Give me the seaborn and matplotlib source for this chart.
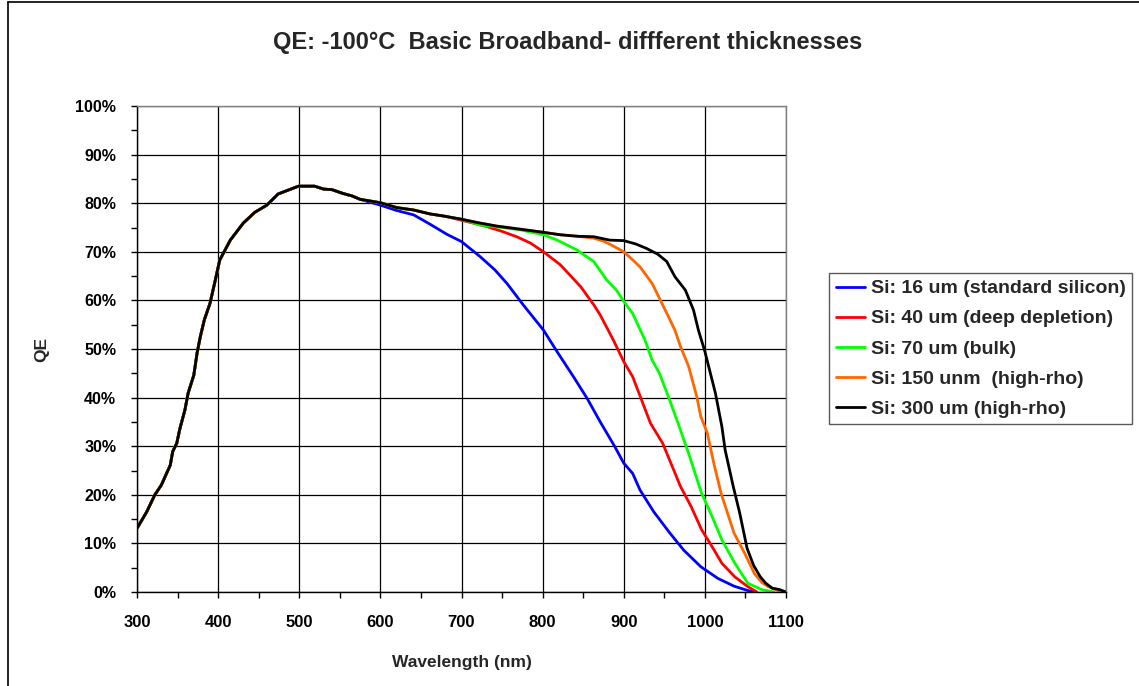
import numpy as np
import pandas as pd
import matplotlib
matplotlib.use("Agg")
import matplotlib.pyplot as plt
import seaborn as sns
from matplotlib.ticker import MultipleLocator, FuncFormatter
from matplotlib.lines import Line2D

# ---- data ----
base_wl = [300, 312, 322, 330, 341, 344, 349, 353, 359, 363, 370, 374, 378, 383, 390,
           396, 402, 415, 431, 445, 460, 474, 499, 519, 530, 540, 554, 565, 575]
base_qe = [13.1, 16.5, 20.0, 22.0, 26.1, 28.9, 30.6, 33.7, 37.4, 40.9, 44.6, 49.1, 52.5,
           56.0, 59.4, 63.8, 68.3, 72.4, 75.9, 78.1, 79.6, 81.9, 83.5, 83.5, 82.9, 82.8,
           82.0, 81.5, 80.8]

wl_16 = [600, 620, 641, 661, 682, 700, 723, 741, 756, 776, 801, 818, 838, 855, 871, 889,
         900, 911, 920, 937, 957, 974, 995, 1016, 1036, 1053, 1060]
qe_16 = [79.6, 78.5, 77.6, 75.7, 73.6, 72.1, 69.0, 66.3, 63.5, 59.1, 53.9, 49.4, 44.3,
         39.8, 35.0, 29.9, 26.5, 24.4, 21.0, 16.5, 12.1, 8.6, 5.2, 2.8, 1.2, 0.3, 0.0]

wl_40 = [600, 620, 641, 661, 680, 700, 731, 750, 768, 785, 801, 822, 847, 863, 871, 887,
         900, 911, 933, 948, 970, 983, 996, 1009, 1021, 1037, 1053, 1064]
qe_40 = [80.1, 79.1, 78.6, 77.8, 77.3, 76.5, 75.2, 74.2, 73.1, 71.8, 70.0, 67.3, 62.8,
         59.1, 57.0, 51.9, 47.4, 44.3, 34.7, 30.6, 21.7, 17.6, 12.8, 9.3, 5.9, 3.1, 1.1, 0.0]

wl_70 = [600, 620, 641, 661, 680, 700, 723, 750, 773, 801, 818, 842, 863, 879, 891, 900,
         911, 926, 935, 944, 955, 967, 980, 996, 1009, 1021, 1037, 1053, 1070, 1085]
qe_70 = [80.1, 79.1, 78.6, 77.8, 77.3, 76.7, 75.5, 75.0, 74.5, 73.5, 72.4, 70.4, 68.0,
         64.2, 62.1, 59.8, 57.3, 51.9, 47.7, 45.0, 40.2, 34.7, 28.5, 20.3, 15.5, 10.7,
         5.9, 1.8, 0.5, 0.0]

wl_150 = [600, 620, 641, 661, 680, 700, 720, 743, 770, 797, 822, 843, 863, 875, 887, 900,
          910, 920, 935, 945, 957, 963, 970, 980, 990, 995, 1003, 1011, 1020, 1028, 1036,
          1049, 1061, 1070, 1078, 1090, 1100]
qe_150 = [80.1, 79.1, 78.6, 77.8, 77.3, 76.7, 76.0, 75.3, 74.7, 74.1, 73.5, 73.2, 72.8,
          72.2, 71.2, 70.0, 68.5, 66.9, 63.5, 60.1, 56.0, 53.9, 50.5, 46.4, 40.2, 36.1,
          32.7, 26.5, 20.3, 16.2, 12.1, 8.0, 3.8, 2.0, 1.1, 0.3, 0.0]

wl_300 = [600, 620, 641, 661, 680, 700, 720, 743, 770, 797, 822, 843, 863, 883, 900, 915,
          928, 942, 953, 963, 976, 986, 992, 1000, 1013, 1021, 1025, 1035, 1043, 1052,
          1060, 1068, 1075, 1083, 1092, 1100]
qe_300 = [80.1, 79.1, 78.6, 77.8, 77.3, 76.7, 76.0, 75.3, 74.7, 74.1, 73.5, 73.2, 73.1,
          72.4, 72.3, 71.6, 70.7, 69.5, 68.0, 64.9, 62.1, 58.0, 53.9, 49.5, 40.9, 34.0,
          29.2, 21.7, 16.2, 9.0, 5.5, 3.2, 1.8, 0.8, 0.5, 0.0]

labels = ["Si: 16 um (standard silicon)", "Si: 40 um (deep depletion)",
          "Si: 70 um (bulk)", "Si: 150 unm  (high-rho)", "Si: 300 um (high-rho)"]
colors = ["#0000FF", "#FF0000", "#00FF00", "#FF6600", "#000000"]
tails = [(wl_16, qe_16), (wl_40, qe_40), (wl_70, qe_70), (wl_150, qe_150), (wl_300, qe_300)]

frames = []
for lab, (w, q) in zip(labels, tails):
    frames.append(pd.DataFrame({"wl": base_wl + w, "qe": base_qe + q, "series": lab}))
df = pd.concat(frames, ignore_index=True)

# ---- plot ----
sns.set_theme(style="white")
plt.rcParams['font.family'] = ['Liberation Sans', 'DejaVu Sans']

fig = plt.figure(figsize=(11.39, 6.86), dpi=100)
ax = fig.add_axes([137/1139, 1-592/686, (786-137)/1139, (592-106)/686])

sns.lineplot(data=df, x="wl", y="qe", hue="series", hue_order=labels,
             palette=colors, estimator=None, sort=False, linewidth=2.0, ax=ax)

ax.set_xlim(300, 1100)
ax.set_ylim(0, 100)
ax.xaxis.set_major_locator(MultipleLocator(100))
ax.xaxis.set_minor_locator(MultipleLocator(50))
ax.yaxis.set_major_locator(MultipleLocator(10))
ax.yaxis.set_minor_locator(MultipleLocator(5))
ax.yaxis.set_major_formatter(FuncFormatter(lambda v, p: f"{int(round(v))}%"))
ax.grid(True, which="major", color="#000000", linewidth=0.9)
ax.set_axisbelow(True)
ax.tick_params(axis="both", which="both", direction="out", bottom=True, left=True,
               colors="black", length=4.5, width=1)
ax.tick_params(axis="x", which="major", labelsize=12, pad=12)
ax.tick_params(axis="y", which="major", labelsize=11.5, pad=10.5)
for lab in ax.get_xticklabels() + ax.get_yticklabels():
    lab.set_fontweight("bold")
for s in ["top", "right"]:
    ax.spines[s].set_color("#808080")
for s in ["left", "bottom"]:
    ax.spines[s].set_color("#000000")
for s in ax.spines.values():
    s.set_linewidth(1)

ax.set_xlabel("Wavelength (nm)", fontsize=12.5, fontweight="bold", labelpad=18)
ax.set_ylabel("QE", fontsize=12.5, fontweight="bold", labelpad=19)

fig.text(568/1139, 1-43/686, "QE: -100°C  Basic Broadband- diffferent thicknesses",
         ha="center", va="center", fontsize=17, fontweight="bold")

leg = ax.legend(loc="upper left", bbox_to_anchor=(829/1139, 1-273/686),
                bbox_transform=fig.transFigure, frameon=True, fancybox=False,
                prop={"weight": "bold", "size": 14}, handlelength=1.5,
                handletextpad=0.3, borderpad=0.35, labelspacing=0.64,
                borderaxespad=0)
leg.get_frame().set_edgecolor("#303030")
leg.get_frame().set_linewidth(1)
for h in leg.get_lines():
    h.set_linewidth(2)

# outer chart border (top and left edges visible in the reference)
fig.add_artist(Line2D([7.5/1139, 1.0], [1-1.5/686, 1-1.5/686], transform=fig.transFigure,
                      color="black", linewidth=1.2))
fig.add_artist(Line2D([7.5/1139, 7.5/1139], [0.0, 1-1.5/686], transform=fig.transFigure,
                      color="black", linewidth=1.2))

fig.savefig("out.png", dpi=100)
